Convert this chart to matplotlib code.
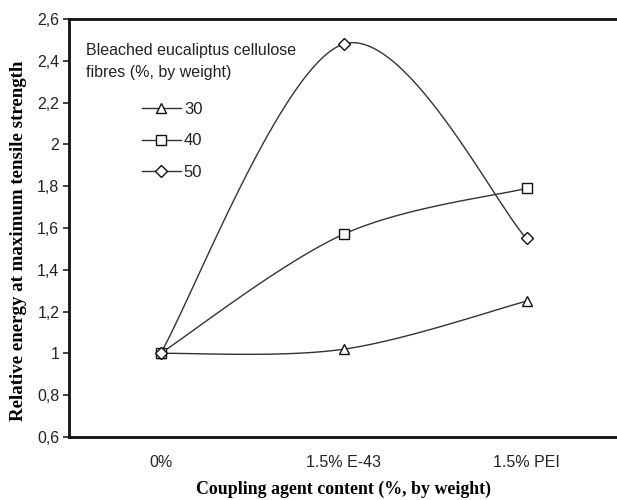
import numpy as np
import matplotlib
matplotlib.use("Agg")
import matplotlib.pyplot as plt
from matplotlib.lines import Line2D

# Data
categories = ["0%", "1.5% E-43", "1.5% PEI"]
fibre_levels = ["30", "40", "50"]
energy_30 = [1.00, 1.02, 1.25]
energy_40 = [1.00, 1.57, 1.79]
energy_50 = [1.00, 2.48, 1.55]
y_ticks = [0.6, 0.8, 1.0, 1.2, 1.4, 1.6, 1.8, 2.0, 2.2, 2.4, 2.6]
y_tick_labels = ["0,6", "0,8", "1", "1,2", "1,4", "1,6", "1,8", "2", "2,2", "2,4", "2,6"]


def smooth_curve(xs, ys, n=60):
    """Catmull-Rom style cubic Bezier through the points (spreadsheet 'smoothed line')."""
    pts = np.column_stack([xs, ys]).astype(float)
    ext = np.vstack([pts[0], pts, pts[-1]])
    out = []
    t = np.linspace(0, 1, n)[:, None]
    for i in range(len(pts) - 1):
        p0, p1, p2, p3 = ext[i], ext[i + 1], ext[i + 2], ext[i + 3]
        c1 = p1 + (p2 - p0) / 6.0
        c2 = p2 - (p3 - p1) / 6.0
        seg = ((1 - t) ** 3) * p1 + 3 * ((1 - t) ** 2) * t * c1 + 3 * (1 - t) * t ** 2 * c2 + t ** 3 * p2
        out.append(seg if i == 0 else seg[1:])
    seg = np.vstack(out)
    return seg[:, 0], seg[:, 1]


plt.rcParams["font.family"] = ["Liberation Sans", "DejaVu Sans"]

fig = plt.figure(figsize=(6.17, 5.0), dpi=100)
ax = fig.add_axes([69 / 617, 1 - 437 / 500, 549 / 617, 418 / 500])

x = np.arange(len(categories))
line_col = "#333333"
series = [(energy_30, "^"), (energy_40, "s"), (energy_50, "D")]
marker_sizes = {"^": 7, "s": 6.5, "D": 6}
handles = []
for (vals, mk), lab in zip(series, fibre_levels):
    sx, sy = smooth_curve(x, vals)
    ax.plot(sx, sy, color=line_col, lw=1.0, zorder=2)
    ax.plot(x, vals, linestyle="none", marker=mk, ms=marker_sizes[mk],
            mfc="white", mec="#111111", mew=1.0, zorder=3)
    handles.append(Line2D([0], [0], color=line_col, lw=1.0, marker=mk,
                          ms=marker_sizes[mk], mfc="white", mec="#111111", mew=1.0,
                          label=lab))

ax.set_xlim(-0.5, 2.5)
ax.set_ylim(0.6, 2.6)
ax.set_xticks(x)
ax.set_xticklabels(categories)
ax.set_yticks(y_ticks)
ax.set_yticklabels(y_tick_labels)
ax.tick_params(axis="x", length=0, pad=13, labelsize=11.5, colors="#222222")
ax.tick_params(axis="y", length=4, width=1.2, direction="out", labelsize=11.5,
               colors="#222222", pad=3)

for side in ["left", "bottom", "top"]:
    ax.spines[side].set_linewidth(2.0)
    ax.spines[side].set_color("#111111")
ax.spines["right"].set_visible(False)

ax.set_xlabel("Coupling agent content (%, by weight)", family="Liberation Serif",
              fontweight="bold", fontsize=12.9, labelpad=8)
ax.set_ylabel("Relative energy at maximum tensile strength", family="Liberation Serif",
              fontweight="bold", fontsize=13.6)
ax.yaxis.set_label_coords((27 - 69) / 549, (437 - 241) / 418)

fig.text(86 / 617, 1 - 50 / 500, "Bleached eucaliptus cellulose", fontsize=11.5,
         color="#222222", va="center", ha="left")
fig.text(86 / 617, 1 - 72 / 500, "fibres (%, by weight)", fontsize=11.5,
         color="#222222", va="center", ha="left")

leg = ax.legend(handles=handles, loc="upper left",
                bbox_to_anchor=((141 - 69) / 549 - 0.01, (437 - 95) / 418),
                frameon=False, fontsize=12, handlelength=2.3, handletextpad=0.2,
                labelspacing=1.0, borderaxespad=0, labelcolor="#222222")

fig.savefig("out.png", dpi=100)
